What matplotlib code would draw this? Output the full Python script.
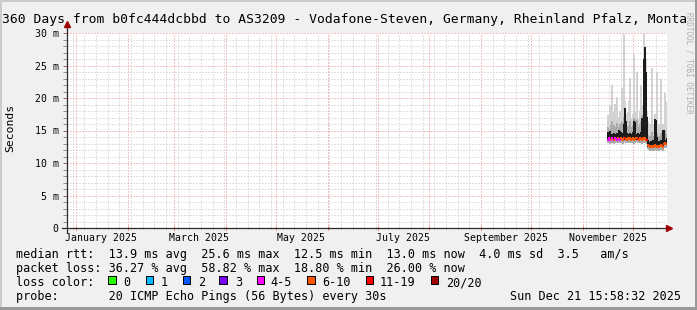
import numpy as np
import pandas as pd
import matplotlib
matplotlib.use("Agg")
import matplotlib.pyplot as plt
import matplotlib.dates as mdates
from matplotlib.patches import Rectangle

# ---------------- data ----------------
title = "360 Days from b0fc444dcbbd to AS3209 - Vodafone-Steven, Germany, Rheinland Pfalz, Monta"
start = pd.Timestamp("2024-12-26 15:58:32")
end = pd.Timestamp("2025-12-21 15:58:32")

median_ms = [13.6, 13.8, 13.5, 13.7, 13.9, 13.6, 13.5, 13.8, 13.7, 13.6,
             13.9, 13.7, 13.6, 13.8, 13.7, 13.6, 13.9, 13.8, 13.7, 13.6,
             13.8, 13.7, 13.9, 13.6, 13.7, 13.8, 13.6, 13.7, 13.9, 13.8,
             13.7, 13.6, 13.8, 13.7, 13.6, 13.9, 13.7, 13.8, 13.6, 13.6,
             12.7, 12.6, 12.5, 12.6, 12.5, 12.6, 12.5, 12.7, 12.6, 12.5,
             12.6, 12.5, 12.6, 12.7, 12.6, 12.5, 12.9, 13.1, 12.9, 13.0]

loss_cnt = [5, 5, 4, 7, 5, 5, 8, 5, 4, 5,
            7, 5, 5, 6, 7, 8, 7, 12, 8, 7,
            7, 9, 8, 7, 8, 7, 6, 8, 7, 7,
            12, 8, 7, 8, 7, 9, 7, 8, 7, 12,
            8, 7, 7, 8, 9, 7, 8, 7, 7, 8,
            7, 8, 7, 8, 7, 7, 8, 7, 9, 8]

smoke_lo = [13.1, 13.2, 13.0, 13.1, 13.2, 13.1, 13.0, 13.2, 13.1, 13.1,
            13.2, 13.1, 13.1, 13.2, 13.1, 13.0, 13.2, 13.2, 13.1, 13.1,
            13.2, 13.1, 13.2, 13.1, 13.1, 13.2, 13.0, 13.1, 13.2, 13.2,
            13.1, 13.1, 13.2, 13.1, 13.0, 13.2, 13.1, 13.2, 13.1, 13.0,
            12.1, 12.0, 11.9, 12.0, 11.9, 12.0, 11.9, 12.1, 12.0, 11.9,
            12.0, 11.9, 12.0, 12.1, 12.0, 11.9, 12.3, 12.4, 12.3, 12.4]

smoke_hi = [17.4, 16.5, 18.8, 17.0, 22.0, 16.5, 17.8, 19.0, 17.5, 20.2,
            17.0, 16.5, 18.0, 16.8, 21.5, 17.5, 29.8, 19.5, 17.5, 16.5,
            17.8, 19.5, 23.0, 17.0, 16.5, 17.5, 26.6, 18.0, 16.5, 24.0,
            17.0, 16.8, 18.0, 22.0, 19.0, 18.5, 29.9, 28.0, 26.0, 18.0,
            16.5, 15.5, 16.0, 15.0, 24.6, 15.5, 16.0, 17.5, 17.0, 24.0,
            15.5, 16.0, 15.0, 23.0, 15.5, 16.0, 15.5, 20.7, 15.0, 19.4]

mid_hi = [15.6, 15.2, 15.0, 15.8, 16.4, 15.3, 15.9, 15.1, 15.6, 16.2,
          15.5, 15.6, 16.0, 15.4, 16.3, 15.8, 17.0, 17.2, 16.0, 15.3,
          15.7, 15.2, 16.5, 15.5, 15.3, 15.8, 17.0, 16.8, 15.4, 16.6,
          15.6, 15.3, 16.0, 16.4, 17.4, 17.2, 18.5, 19.5, 18.0, 16.5,
          14.3, 14.0, 14.2, 13.9, 14.8, 14.0, 14.2, 16.0, 15.6, 14.6,
          14.0, 14.2, 13.9, 14.6, 14.1, 14.8, 14.6, 14.9, 14.0, 14.4]

dark_lo = [13.5, 13.6, 13.4, 13.5, 13.6, 13.5, 13.4, 13.6, 13.5, 13.5,
           13.6, 13.5, 13.5, 13.6, 13.5, 13.4, 13.6, 13.6, 13.5, 13.5,
           13.6, 13.5, 13.6, 13.5, 13.5, 13.6, 13.4, 13.5, 13.6, 13.6,
           13.5, 13.5, 13.6, 13.5, 13.4, 13.6, 13.5, 13.6, 13.5, 13.4,
           12.5, 12.4, 12.3, 12.4, 12.3, 12.4, 12.3, 12.5, 12.4, 12.3,
           12.4, 12.3, 12.4, 12.5, 12.4, 12.3, 12.7, 12.8, 12.7, 12.8]

dark_hi = [14.8, 14.6, 14.9, 14.5, 14.3, 14.4, 14.6, 14.3, 14.5, 14.6,
           14.4, 15.1, 15.0, 14.8, 14.5, 14.6, 16.0, 18.5, 16.5, 14.6,
           14.5, 14.3, 14.6, 14.4, 14.5, 14.7, 16.5, 16.3, 14.5, 14.4,
           14.6, 14.3, 14.5, 14.8, 16.9, 17.0, 26.0, 27.9, 24.0, 17.0,
           13.6, 13.3, 13.3, 13.4, 13.3, 13.5, 13.4, 16.8, 16.6, 14.0,
           13.3, 13.4, 13.3, 13.5, 13.4, 15.1, 15.0, 13.6, 13.5, 13.8]

y_ticks = [0, 5, 10, 15, 20, 25, 30]
y_ticklabels = ["0", "5 m", "10 m", "15 m", "20 m", "25 m", "30 m"]
month_labels = ["January 2025", "March 2025", "May 2025", "July 2025",
                "September 2025", "November 2025"]
month_label_dates = ["2025-01-16", "2025-03-16", "2025-05-16", "2025-07-16",
                     "2025-09-16", "2025-11-16"]

legend_rtt = "median rtt:  13.9 ms avg  25.6 ms max  12.5 ms min  13.0 ms now  4.0 ms sd  3.5   am/s"
legend_loss = "packet loss: 36.27 % avg  58.82 % max  18.80 % min  26.00 % now"
loss_labels = ["0", "1", "2", "3", "4-5", "6-10", "11-19", "20/20"]
loss_colors = ["#26ff00", "#00b8ff", "#0059ff", "#7e00ff", "#ff00ff",
               "#ff5500", "#ff0000", "#a10000"]
probe_text = "probe:       20 ICMP Echo Pings (56 Bytes) every 30s"
stamp_text = "Sun Dec 21 15:58:32 2025"


def color_for_loss(l):
    if l == 0:
        return loss_colors[0]
    if l <= 3:
        return loss_colors[l]
    if l <= 5:
        return loss_colors[4]
    if l <= 10:
        return loss_colors[5]
    if l <= 19:
        return loss_colors[6]
    return loss_colors[7]


# ---------------- figure ----------------
W, H = 697, 310
MONO = "DejaVu Sans Mono"
fig = plt.figure(figsize=(W / 100, H / 100), dpi=100)
fig.patch.set_facecolor("#f0f0f0")


def fx(px):
    return px / W


def fy(py):
    return 1 - py / H


# 3D frame
fig.add_artist(Rectangle((0, fy(2)), 1, 2 / H, transform=fig.transFigure, color="#cbcbcb", lw=0))
fig.add_artist(Rectangle((0, 0), 2 / W, 1, transform=fig.transFigure, color="#cbcbcb", lw=0))
fig.add_artist(Rectangle((0, 0), 1, 3 / H, transform=fig.transFigure, color="#999999", lw=0))
fig.add_artist(Rectangle((fx(W - 2), 0), 2 / W, 1, transform=fig.transFigure, color="#999999", lw=0))

ax = fig.add_axes([fx(67), fy(228), 600 / W, 195 / H])
ax.set_facecolor("white")
for s in ax.spines.values():
    s.set_visible(False)

x0 = mdates.date2num(start)
x1 = mdates.date2num(end)
ax.set_xlim(x0, x1)
ax.set_ylim(0, 30)

# grid
ax.xaxis.set_major_locator(mdates.MonthLocator())
ax.xaxis.set_minor_locator(mdates.WeekdayLocator(byweekday=mdates.MO))
ax.set_yticks(y_ticks)
ax.set_yticks(np.arange(0, 31, 1), minor=True)
ax.set_yticklabels(y_ticklabels, fontsize=7.1, family=MONO)
ax.set_xticklabels([])
dot = (0, (1, 2))
ax.grid(which="minor", color="#c4c4c4", linestyle=dot, linewidth=0.72)
ax.grid(which="major", color="#ec8c8c", linestyle=dot, linewidth=0.72)
ax.set_axisbelow(True)
ax.tick_params(axis="y", which="major", length=3, width=0.72, color="#b06060", pad=3)
ax.tick_params(axis="y", which="minor", length=3, width=0.72, color="#909090")
ax.tick_params(axis="x", which="major", length=3, width=0.72, color="#e07070", direction="inout")
ax.tick_params(axis="x", which="minor", length=2, width=0.72, color="#a0a0a0", direction="inout")

# data
times = pd.date_range(end=end, periods=len(median_ms), freq="864min")
xs = mdates.date2num(times)
wd = 0.6
bw = 0.72
med = np.array(median_ms)
slo, shi = np.array(smoke_lo), np.array(smoke_hi)
mhi = np.array(mid_hi)
dlo, dhi = np.array(dark_lo), np.array(dark_hi)
ax.bar(xs, shi - slo, bottom=slo, width=bw, color="#d2d2d2", linewidth=0, zorder=2)
ax.bar(xs, mhi - slo, bottom=slo, width=bw, color="#ababab", linewidth=0, zorder=3)
ax.bar(xs, dhi - dlo, bottom=dlo, width=bw, color="#1c1c1c", linewidth=0, zorder=4)
cols = [color_for_loss(l) for l in loss_cnt]
ax.hlines(med, xs - wd / 2 - 0.15, xs + wd / 2 + 0.15, colors=cols, linewidth=1.5, zorder=5)

# axis lines and arrows
axis_col = "#2c2c2c"
ax.plot([-5 / 600, 600 / 600], [0, 0], transform=ax.transAxes, clip_on=False,
        color=axis_col, lw=0.9, zorder=6)
ax.plot([0, 0], [-4 / 195, 1.035], transform=ax.transAxes, clip_on=False,
        color=axis_col, lw=0.9, zorder=6)
ax.plot([0], [1.046], marker="^", ms=4.5, color="#a00000", mec="#a00000",
        transform=ax.transAxes, clip_on=False, zorder=7)
ax.plot([602 / 600], [0], marker=">", ms=4.5, color="#a00000", mec="#a00000",
        transform=ax.transAxes, clip_on=False, zorder=7)

# month labels
tr = ax.get_xaxis_transform()
for lab, d in zip(month_labels, month_label_dates):
    ax.text(mdates.date2num(pd.Timestamp(d)), -13 / 195, lab, transform=tr,
            ha="center", va="baseline", fontsize=7.1, family=MONO, color="black")

# title
fig.text(fx(2.3), fy(23.3), title, ha="left", va="baseline", fontsize=9.4,
         family=MONO, color="black")

# y label
fig.text(fx(10.5), fy(128), "Seconds", rotation=90, ha="center", va="center",
         fontsize=8.2, family=MONO, color="black")

# watermark
fig.text(fx(689.5), fy(63), "RRDTOOL / TOBI OETIKER", rotation=270, ha="center",
         va="center", fontsize=5.5, family=MONO, color="#b0b0b0")

# legend
fs = 8.5
fig.text(fx(16), fy(258.3), legend_rtt, ha="left", va="baseline", fontsize=fs, family=MONO)
fig.text(fx(16), fy(272.3), legend_loss, ha="left", va="baseline", fontsize=fs, family=MONO)
fig.text(fx(16), fy(286.3), "loss color:", ha="left", va="baseline", fontsize=fs, family=MONO)
sq_x = [108.3, 145.7, 182.7, 219.3, 256.7, 307.3, 365.7, 430.7]
lab_x = [123.3, 160.7, 198.0, 235.0, 270.3, 322.0, 380.0, 445.7]
for c, lab, sx, lx in zip(loss_colors, loss_labels, sq_x, lab_x):
    fig.add_artist(Rectangle((fx(sx), fy(283.7)), 7.5 / W, 8.2 / H, transform=fig.transFigure,
                             facecolor=c, edgecolor="black", lw=0.72))
    fig.text(fx(lx), fy(286.3), lab, ha="left", va="baseline", fontsize=fs, family=MONO)
fig.text(fx(16), fy(300.0), probe_text, ha="left", va="baseline", fontsize=fs, family=MONO)
fig.text(fx(680.5), fy(300.0), stamp_text, ha="right", va="baseline", fontsize=fs, family=MONO)

fig.savefig("out.png", dpi=100, facecolor=fig.get_facecolor())
